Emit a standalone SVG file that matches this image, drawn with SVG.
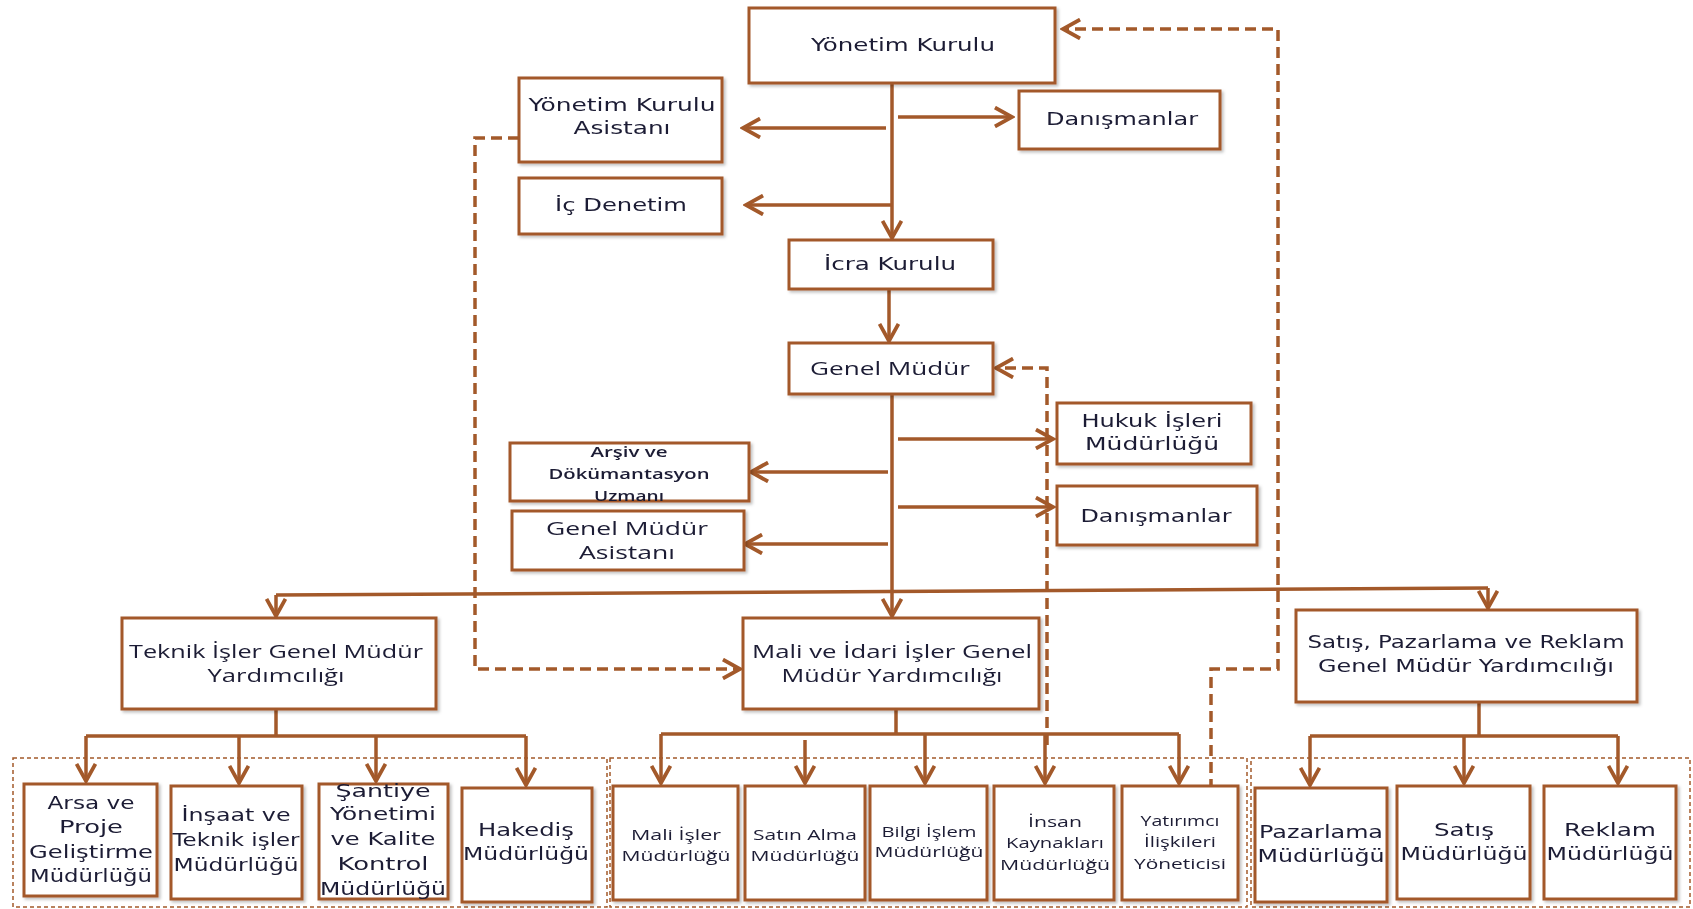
<svg xmlns="http://www.w3.org/2000/svg" width="1693" height="909" viewBox="0 0 1693 909">
<style>
.b{fill:#fff;stroke:#A3592A;stroke-width:3}
.c{fill:none;stroke:#A3592A;stroke-width:3.5}
.d{fill:none;stroke:#A3592A;stroke-width:3.5;stroke-dasharray:11 6}
.g{fill:none;stroke:#A3592A;stroke-width:1.5;stroke-dasharray:4 3}
.v{font-family:"DejaVu Sans",Verdana,sans-serif;fill:#1c1c34;text-anchor:middle}
.k{font-family:"Open Sans","Noto Sans",sans-serif;fill:#1c1c34;text-anchor:middle}
</style>
<defs>
<marker id="a" viewBox="0 0 12 12" refX="10.5" refY="6" markerWidth="6.5" markerHeight="6.5" orient="auto" markerUnits="strokeWidth">
<path d="M1.5,1 L10.5,6 L1.5,11" fill="none" stroke="#A3592A" stroke-width="2"/>
</marker>
<filter id="s" x="-5%" y="-5%" width="115%" height="120%"><feDropShadow dx="2" dy="2" stdDeviation="1.5" flood-color="#000" flood-opacity="0.25"/></filter>
</defs>
<g id="groups">
<rect class="g" x="13" y="758" width="594" height="149"/>
<rect class="g" x="610" y="758" width="637" height="149"/>
<rect class="g" x="1251" y="758" width="439" height="149"/>
</g>
<g id="connectors">
<path class="c" d="M892,83 V238" marker-end="url(#a)"/>
<path class="c" d="M886,128 H743" marker-end="url(#a)"/>
<path class="c" d="M898,117 H1012" marker-end="url(#a)"/>
<path class="c" d="M892,205 H746" marker-end="url(#a)"/>
<path class="c" d="M889,289 V341" marker-end="url(#a)"/>
<path class="c" d="M892,394 V616" marker-end="url(#a)"/>
<path class="c" d="M898,439 H1053" marker-end="url(#a)"/>
<path class="c" d="M898,507 H1053" marker-end="url(#a)"/>
<path class="c" d="M888,472 H751" marker-end="url(#a)"/>
<path class="c" d="M888,544 H745" marker-end="url(#a)"/>
<path class="c" d="M276,595 L1488,588"/>
<path class="c" d="M276,595 V616" marker-end="url(#a)"/>
<path class="c" d="M1488,588 V608" marker-end="url(#a)"/>
<path class="c" d="M276,709 V736 M86,736 H526"/>
<path class="c" d="M86,736 V781" marker-end="url(#a)"/>
<path class="c" d="M239,736 V783" marker-end="url(#a)"/>
<path class="c" d="M376,736 V781" marker-end="url(#a)"/>
<path class="c" d="M526,736 V785" marker-end="url(#a)"/>
<path class="c" d="M896,709 V734 M661,734 H1179"/>
<path class="c" d="M661,734 V783" marker-end="url(#a)"/>
<path class="c" d="M805,740 V783" marker-end="url(#a)"/>
<path class="c" d="M925,734 V783" marker-end="url(#a)"/>
<path class="c" d="M1045,734 V783" marker-end="url(#a)"/>
<path class="c" d="M1179,734 V783" marker-end="url(#a)"/>
<path class="c" d="M1479,702 V736 M1310,736 H1618"/>
<path class="c" d="M1310,736 V785" marker-end="url(#a)"/>
<path class="c" d="M1464,736 V783" marker-end="url(#a)"/>
<path class="c" d="M1618,736 V783" marker-end="url(#a)"/>
<path class="d" d="M519,138 H475 V669 H740" marker-end="url(#a)"/>
<path class="d" d="M1211,790 V669 H1278 V29 H1063" marker-end="url(#a)"/>
<path class="d" d="M1047,745 V368 H996" marker-end="url(#a)"/>
</g>
<g id="n1" filter="url(#s)"><rect class="b" x="749" y="8" width="306" height="75"/><text class="v" x="903" y="51" font-size="17" textLength="184" lengthAdjust="spacingAndGlyphs">Yönetim Kurulu</text></g>
<g id="n2" filter="url(#s)"><rect class="b" x="519" y="78" width="203" height="84"/><text class="v" font-size="17"><tspan x="622" y="111" textLength="187" lengthAdjust="spacingAndGlyphs">Yönetim Kurulu</tspan><tspan x="622" y="134" textLength="97" lengthAdjust="spacingAndGlyphs">Asistanı</tspan></text></g>
<g id="n3" filter="url(#s)"><rect class="b" x="1019" y="91" width="201" height="58"/><text class="v" x="1122" y="125" font-size="17" textLength="152" lengthAdjust="spacingAndGlyphs">Danışmanlar</text></g>
<g id="n4" filter="url(#s)"><rect class="b" x="519" y="178" width="203" height="56"/><text class="v" x="621" y="211" font-size="17" textLength="132" lengthAdjust="spacingAndGlyphs">İç Denetim</text></g>
<g id="n5" filter="url(#s)"><rect class="b" x="789" y="240" width="204" height="49"/><text class="v" x="890" y="270" font-size="17" textLength="132" lengthAdjust="spacingAndGlyphs">İcra Kurulu</text></g>
<g id="n6" filter="url(#s)"><rect class="b" x="789" y="343" width="204" height="51"/><text class="k" x="890" y="375" font-size="19" textLength="160" lengthAdjust="spacingAndGlyphs">Genel Müdür</text></g>
<g id="n7" filter="url(#s)"><rect class="b" x="1057" y="403" width="194" height="61"/><text class="v" font-size="17"><tspan x="1152" y="427" textLength="141" lengthAdjust="spacingAndGlyphs">Hukuk İşleri</tspan><tspan x="1152" y="450" textLength="134" lengthAdjust="spacingAndGlyphs">Müdürlüğü</tspan></text></g>
<g id="n8" filter="url(#s)"><rect class="b" x="510" y="443" width="239" height="58"/><text class="k" font-size="14" font-weight="600"><tspan x="629" y="457" textLength="77" lengthAdjust="spacingAndGlyphs">Arşiv ve</tspan><tspan x="629" y="479" textLength="161" lengthAdjust="spacingAndGlyphs">Dökümantasyon</tspan><tspan x="629" y="501" textLength="70" lengthAdjust="spacingAndGlyphs">Uzmanı</tspan></text></g>
<g id="n9" filter="url(#s)"><rect class="b" x="1057" y="486" width="200" height="59"/><text class="v" x="1156" y="522" font-size="17" textLength="151" lengthAdjust="spacingAndGlyphs">Danışmanlar</text></g>
<g id="n10" filter="url(#s)"><rect class="b" x="512" y="511" width="232" height="59"/><text class="k" font-size="19"><tspan x="627" y="535" textLength="162" lengthAdjust="spacingAndGlyphs">Genel Müdür</tspan><tspan x="627" y="559" textLength="96" lengthAdjust="spacingAndGlyphs">Asistanı</tspan></text></g>
<g id="n11" filter="url(#s)"><rect class="b" x="122" y="618" width="314" height="91"/><text class="k" font-size="19"><tspan x="276" y="658" textLength="294" lengthAdjust="spacingAndGlyphs">Teknik İşler Genel Müdür</tspan><tspan x="276" y="682" textLength="137" lengthAdjust="spacingAndGlyphs">Yardımcılığı</tspan></text></g>
<g id="n12" filter="url(#s)"><rect class="b" x="743" y="618" width="296" height="91"/><text class="k" font-size="19"><tspan x="892" y="658" textLength="280" lengthAdjust="spacingAndGlyphs">Mali ve İdari İşler Genel</tspan><tspan x="892" y="682" textLength="221" lengthAdjust="spacingAndGlyphs">Müdür Yardımcılığı</tspan></text></g>
<g id="n13" filter="url(#s)"><rect class="b" x="1296" y="610" width="341" height="92"/><text class="v" font-size="17"><tspan x="1466" y="648" textLength="317" lengthAdjust="spacingAndGlyphs">Satış, Pazarlama ve Reklam</tspan><tspan x="1466" y="672" textLength="296" lengthAdjust="spacingAndGlyphs">Genel Müdür Yardımcılığı</tspan></text></g>
<g id="n14" filter="url(#s)"><rect class="b" x="24" y="784" width="133" height="112"/><text class="v" font-size="17"><tspan x="91" y="809" textLength="87" lengthAdjust="spacingAndGlyphs">Arsa ve</tspan><tspan x="91" y="833" textLength="64" lengthAdjust="spacingAndGlyphs">Proje</tspan><tspan x="91" y="858" textLength="124" lengthAdjust="spacingAndGlyphs">Geliştirme</tspan><tspan x="91" y="882" textLength="122" lengthAdjust="spacingAndGlyphs">Müdürlüğü</tspan></text></g>
<g id="n15" filter="url(#s)"><rect class="b" x="171" y="786" width="131" height="113"/><text class="v" font-size="17"><tspan x="236" y="821" textLength="109" lengthAdjust="spacingAndGlyphs">İnşaat ve</tspan><tspan x="236" y="846" textLength="127" lengthAdjust="spacingAndGlyphs">Teknik işler</tspan><tspan x="236" y="871" textLength="125" lengthAdjust="spacingAndGlyphs">Müdürlüğü</tspan></text></g>
<g id="n16" filter="url(#s)"><rect class="b" x="319" y="784" width="129" height="115"/><text class="v" font-size="17"><tspan x="383" y="797" textLength="95" lengthAdjust="spacingAndGlyphs">Şantiye</tspan><tspan x="383" y="820" textLength="106" lengthAdjust="spacingAndGlyphs">Yönetimi</tspan><tspan x="383" y="845" textLength="105" lengthAdjust="spacingAndGlyphs">ve Kalite</tspan><tspan x="383" y="870" textLength="91" lengthAdjust="spacingAndGlyphs">Kontrol</tspan><tspan x="383" y="895" textLength="126" lengthAdjust="spacingAndGlyphs">Müdürlüğü</tspan></text></g>
<g id="n17" filter="url(#s)"><rect class="b" x="462" y="788" width="130" height="114"/><text class="v" font-size="17"><tspan x="526" y="836" textLength="96" lengthAdjust="spacingAndGlyphs">Hakediş</tspan><tspan x="526" y="860" textLength="126" lengthAdjust="spacingAndGlyphs">Müdürlüğü</tspan></text></g>
<g id="n18" filter="url(#s)"><rect class="b" x="613" y="786" width="125" height="114"/><text class="k" font-size="15"><tspan x="676" y="840" textLength="90" lengthAdjust="spacingAndGlyphs">Mali  İşler</tspan><tspan x="676" y="861" textLength="109" lengthAdjust="spacingAndGlyphs">Müdürlüğü</tspan></text></g>
<g id="n19" filter="url(#s)"><rect class="b" x="745" y="786" width="120" height="114"/><text class="k" font-size="15"><tspan x="805" y="840" textLength="104" lengthAdjust="spacingAndGlyphs">Satın  Alma</tspan><tspan x="805" y="861" textLength="109" lengthAdjust="spacingAndGlyphs">Müdürlüğü</tspan></text></g>
<g id="n20" filter="url(#s)"><rect class="b" x="870" y="786" width="117" height="114"/><text class="k" font-size="15"><tspan x="929" y="837" textLength="95" lengthAdjust="spacingAndGlyphs">Bilgi İşlem</tspan><tspan x="929" y="857" textLength="109" lengthAdjust="spacingAndGlyphs">Müdürlüğü</tspan></text></g>
<g id="n21" filter="url(#s)"><rect class="b" x="994" y="786" width="120" height="114"/><text class="k" font-size="15"><tspan x="1055" y="827" textLength="54" lengthAdjust="spacingAndGlyphs">İnsan</tspan><tspan x="1055" y="848" textLength="98" lengthAdjust="spacingAndGlyphs">Kaynakları</tspan><tspan x="1055" y="870" textLength="110" lengthAdjust="spacingAndGlyphs">Müdürlüğü</tspan></text></g>
<g id="n22" filter="url(#s)"><rect class="b" x="1122" y="786" width="116" height="114"/><text class="k" font-size="14"><tspan x="1180" y="826" textLength="79" lengthAdjust="spacingAndGlyphs">Yatırımcı</tspan><tspan x="1180" y="847" textLength="72" lengthAdjust="spacingAndGlyphs">İlişkileri</tspan><tspan x="1180" y="869" textLength="92" lengthAdjust="spacingAndGlyphs">Yöneticisi</tspan></text></g>
<g id="n23" filter="url(#s)"><rect class="b" x="1255" y="788" width="132" height="114"/><text class="v" font-size="17"><tspan x="1321" y="838" textLength="124" lengthAdjust="spacingAndGlyphs">Pazarlama</tspan><tspan x="1321" y="862" textLength="127" lengthAdjust="spacingAndGlyphs">Müdürlüğü</tspan></text></g>
<g id="n24" filter="url(#s)"><rect class="b" x="1397" y="786" width="133" height="113"/><text class="v" font-size="17"><tspan x="1464" y="836" textLength="60" lengthAdjust="spacingAndGlyphs">Satış</tspan><tspan x="1464" y="860" textLength="127" lengthAdjust="spacingAndGlyphs">Müdürlüğü</tspan></text></g>
<g id="n25" filter="url(#s)"><rect class="b" x="1544" y="786" width="132" height="113"/><text class="v" font-size="17"><tspan x="1610" y="836" textLength="92" lengthAdjust="spacingAndGlyphs">Reklam</tspan><tspan x="1610" y="860" textLength="127" lengthAdjust="spacingAndGlyphs">Müdürlüğü</tspan></text></g>
</svg>
